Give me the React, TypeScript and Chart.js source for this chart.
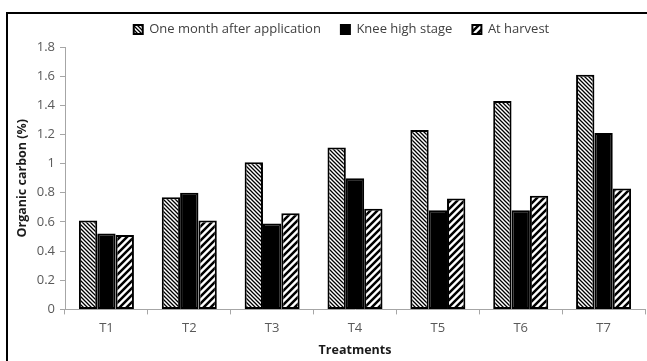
import React, { useEffect, useRef } from 'react';
import { Chart, registerables } from 'chart.js';

Chart.register(...registerables);

const categories = ['T1', 'T2', 'T3', 'T4', 'T5', 'T6', 'T7'];
const oneMonthAfter = [0.61, 0.77, 1.01, 1.11, 1.23, 1.43, 1.61];
const kneeHighStage = [0.52, 0.80, 0.59, 0.90, 0.68, 0.68, 1.21];
const atHarvest = [0.51, 0.61, 0.66, 0.69, 0.76, 0.78, 0.83];
const seriesLabels = ['One month after application', 'Knee high stage', 'At harvest'];
const yMin = 0;
const yMax = 1.8;
const yStep = 0.2;
const xTitle = 'Treatments';
const yTitle = 'Organic carbon (%)';

const FONT = "'Open Sans', 'Liberation Sans', sans-serif";

function fineHatch(): CanvasPattern | string {
  const c = document.createElement('canvas');
  c.width = 4;
  c.height = 4;
  const x = c.getContext('2d');
  if (!x) return '#bbb';
  x.fillStyle = '#ffffff';
  x.fillRect(0, 0, 4, 4);
  x.strokeStyle = '#000000';
  x.lineWidth = 1.3;
  x.beginPath();
  x.moveTo(-1, -1);
  x.lineTo(5, 5);
  x.moveTo(-1, 3);
  x.lineTo(1, 5);
  x.moveTo(3, -1);
  x.lineTo(5, 1);
  x.stroke();
  return x.createPattern(c, 'repeat') || '#bbb';
}

function wideHatch(): CanvasPattern | string {
  const s = 7;
  const c = document.createElement('canvas');
  c.width = s;
  c.height = s;
  const x = c.getContext('2d');
  if (!x) return '#777';
  x.fillStyle = '#ffffff';
  x.fillRect(0, 0, s, s);
  x.strokeStyle = '#000000';
  x.lineWidth = 2.5;
  x.beginPath();
  x.moveTo(-2, s + 2);
  x.lineTo(s + 2, -2);
  x.moveTo(-2, 2);
  x.lineTo(2, -2);
  x.moveTo(s - 2, s + 2);
  x.lineTo(s + 2, s - 2);
  x.stroke();
  return x.createPattern(c, 'repeat') || '#777';
}

const legendShift = {
  id: 'legendShift',
  afterLayout(chart: any) {
    const l = chart.legend;
    if (!l) return;
    l.left += 16;
    l.right += 16;
    l.top -= 1;
    l.bottom -= 1;
  },
};

export default function App() {
  const ref = useRef<HTMLCanvasElement>(null);

  useEffect(() => {
    if (!ref.current) return;
    const common = {
      borderColor: '#000000',
      borderWidth: 2,
      borderSkipped: false,
      categoryPercentage: 0.664,
      barPercentage: 1.0,
    };
    const chart = new Chart(ref.current, {
      type: 'bar',
      data: {
        labels: categories,
        datasets: [
          { label: seriesLabels[0], data: oneMonthAfter, backgroundColor: fineHatch(), ...common },
          { label: seriesLabels[1], data: kneeHighStage, backgroundColor: '#000000', ...common },
          { label: seriesLabels[2], data: atHarvest, backgroundColor: wideHatch(), ...common },
        ],
      } as any,
      options: {
        animation: false,
        responsive: false,
        layout: { padding: { left: 6, right: 2, top: 4, bottom: 3 } },
        plugins: {
          tooltip: { enabled: false },
          legend: {
            position: 'top',
            labels: {
              boxWidth: 9,
              boxHeight: 9,
              padding: 20,
              color: '#404040',
              font: { family: FONT, size: 13 },
            },
          },
        },
        scales: {
          x: {
            grid: { drawOnChartArea: false, tickLength: 5, color: '#a6a6a6' },
            border: { color: '#a6a6a6', width: 1 },
            ticks: { color: '#595959', padding: 6, font: { family: FONT, size: 13 } },
            title: {
              display: true,
              text: xTitle,
              color: '#1a1a1a',
              padding: { top: 1, bottom: 0 },
              font: { family: FONT, size: 12.5, weight: 'bold' },
            },
          },
          y: {
            min: yMin,
            max: yMax,
            afterFit(scale: any) {
              scale.width = 59;
            },
            grid: { drawOnChartArea: false, tickLength: 5, color: '#a6a6a6' },
            border: { color: '#a6a6a6', width: 1 },
            ticks: {
              stepSize: yStep,
              color: '#595959',
              padding: 5,
              font: { family: FONT, size: 13 },
              callback: (v: any) => String(Math.round(Number(v) * 10) / 10),
            },
            title: {
              display: true,
              text: yTitle,
              color: '#1a1a1a',
              padding: { top: 9, bottom: 0 },
              font: { family: FONT, size: 12.5, weight: 'bold' },
            },
          },
        },
      } as any,
      plugins: [legendShift],
    });
    return () => chart.destroy();
  }, []);

  return (
    <div
      style={{
        position: 'fixed',
        left: 0,
        top: 0,
        width: 647,
        height: 361,
        overflow: 'hidden',
        background: '#ffffff',
      }}
    >
      <div
        style={{
          position: 'absolute',
          left: 6,
          top: 12,
          width: 700,
          height: 400,
          border: '2px solid #000000',
          boxSizing: 'border-box',
        }}
      />
      <canvas
        ref={ref}
        width={647}
        height={361}
        style={{ position: 'absolute', left: 0, top: 0, width: 647, height: 361 }}
      />
    </div>
  );
}
